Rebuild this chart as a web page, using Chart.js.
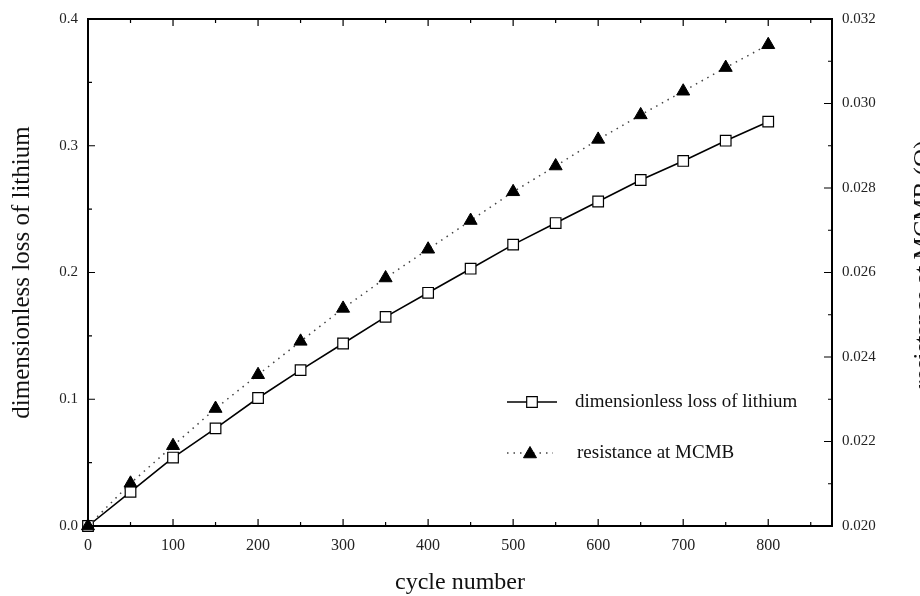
<!DOCTYPE html>
<html>
<head>
<meta charset="utf-8">
<script src="https://cdn.jsdelivr.net/npm/chart.js@4/dist/chart.umd.min.js"></script>
<style>
  html, body { margin: 0; padding: 0; background: #fff; }
  #myChart { display: block; }
</style>
</head>
<body>
<canvas id="myChart" width="920" height="596"></canvas>
<script>
// values
var cycles = [0, 50, 100, 150, 200, 250, 300, 350, 400, 450, 500, 550, 600, 650, 700, 750, 800];
var lithiumLoss = [0, 0.027, 0.054, 0.077, 0.101, 0.123, 0.144, 0.165, 0.184, 0.203, 0.222, 0.239, 0.256, 0.273, 0.288, 0.304, 0.319];
var resistance = [0.0200, 0.02101, 0.02190, 0.02278, 0.02358, 0.02437, 0.02515, 0.02587, 0.02655, 0.02723, 0.02791, 0.02852, 0.02915, 0.02973, 0.03029, 0.03085, 0.03139];

var xTicks = [0, 100, 200, 300, 400, 500, 600, 700, 800];
var leftTicks = [0.0, 0.1, 0.2, 0.3, 0.4];
var rightTicks = [0.020, 0.022, 0.024, 0.026, 0.028, 0.030, 0.032];

var labelLithium = 'dimensionless loss of lithium';
var labelResistance = 'resistance at MCMB';
var titleX = 'cycle number';
var titleLeft = 'dimensionless loss of lithium';
var titleRight = 'resistance at MCMB (\u03A9)';

var serif = '"Liberation Serif", "Times New Roman", serif';
var myChart;

function toPoints(xs, ys) {
    var pts = [];
    for (var i = 0; i < xs.length; i++) {
        pts.push({x: xs[i], y: ys[i]});
    }
    return pts;
}

function drawMarker(ctx, style, r, x, y, fill, stroke, lw) {
    ctx.save();
    ctx.fillStyle = fill;
    ctx.strokeStyle = stroke;
    ctx.lineWidth = lw;
    ctx.beginPath();
    if (style === 'rect') {
        var s = Math.SQRT1_2 * r;
        ctx.rect(x - s, y - s, 2 * s, 2 * s);
    } else {
        var a = -Math.PI / 2;
        ctx.moveTo(x + Math.cos(a) * r, y + Math.sin(a) * r);
        a += 2 * Math.PI / 3;
        ctx.lineTo(x + Math.cos(a) * r, y + Math.sin(a) * r);
        a += 2 * Math.PI / 3;
        ctx.lineTo(x + Math.cos(a) * r, y + Math.sin(a) * r);
        ctx.closePath();
    }
    ctx.fill();
    ctx.stroke();
    ctx.restore();
}

// frame, inward ticks, right title and in-plot legend
var decorPlugin = {
    id: 'decor',
    afterDatasetsDraw: function(chart) {
        var ctx = chart.ctx;
        var a = chart.chartArea;
        var sx = chart.scales.x, sy = chart.scales.y, sy2 = chart.scales.y2;
        ctx.save();
        ctx.strokeStyle = '#000';
        ctx.lineWidth = 2;
        ctx.strokeRect(a.left, a.top, a.right - a.left, a.bottom - a.top);

        ctx.lineWidth = 1.2;
        ctx.beginPath();
        var v, p, len;
        for (v = 0; v <= 850; v += 50) {
            p = sx.getPixelForValue(v);
            len = (v % 100 === 0) ? 7 : 4;
            ctx.moveTo(p, a.bottom); ctx.lineTo(p, a.bottom - len);
            ctx.moveTo(p, a.top); ctx.lineTo(p, a.top + len);
        }
        for (v = 0; v <= 8; v++) {
            p = sy.getPixelForValue(v * 0.05);
            len = (v % 2 === 0) ? 7 : 4;
            ctx.moveTo(a.left, p); ctx.lineTo(a.left + len, p);
        }
        for (v = 0; v <= 12; v++) {
            p = sy2.getPixelForValue(0.020 + v * 0.001);
            len = (v % 2 === 0) ? 8 : 4;
            ctx.moveTo(a.right, p); ctx.lineTo(a.right - len, p);
        }
        ctx.stroke();

        // right axis title, reads bottom to top like the left one
        ctx.save();
        ctx.translate(924, (a.top + a.bottom) / 2 - 8);
        ctx.rotate(-Math.PI / 2);
        ctx.font = '25px ' + serif;
        ctx.fillStyle = '#111';
        ctx.textAlign = 'center';
        ctx.textBaseline = 'middle';
        ctx.fillText(titleRight, 0, 0);
        ctx.restore();

        // legend
        var d0 = chart.data.datasets[1], d1 = chart.data.datasets[0];
        ctx.font = '19px ' + serif;
        ctx.fillStyle = '#111';
        ctx.textBaseline = 'middle';
        ctx.textAlign = 'left';

        ctx.strokeStyle = d0.borderColor;
        ctx.lineWidth = d0.borderWidth;
        ctx.beginPath(); ctx.moveTo(507, 402); ctx.lineTo(557, 402); ctx.stroke();
        drawMarker(ctx, 'rect', d0.pointRadius, 532, 402, '#fff', '#000', d0.pointBorderWidth);
        ctx.fillText(labelLithium, 575, 402);

        ctx.strokeStyle = d1.borderColor;
        ctx.lineWidth = d1.borderWidth;
        ctx.setLineDash(d1.borderDash);
        ctx.beginPath(); ctx.moveTo(507, 453); ctx.lineTo(553, 453); ctx.stroke();
        ctx.setLineDash([]);
        drawMarker(ctx, 'triangle', d1.pointRadius, 530, 454, '#000', '#000', 1);
        ctx.fillStyle = '#111';
        ctx.fillText(labelResistance, 577, 453);
        ctx.restore();
    }
};

function init_chart() {
    var ctx = document.getElementById('myChart').getContext('2d');

    const data = {
        datasets: [{
            label: labelResistance,
            data: toPoints(cycles, resistance),
            yAxisID: 'y2',
            borderColor: '#444',
            borderWidth: 1.5,
            borderDash: [1.5, 5],
            pointStyle: 'triangle',
            pointRadius: 7.5,
            pointBackgroundColor: '#000',
            pointBorderColor: '#000',
            pointBorderWidth: 1,
            tension: 0,
            clip: false,
            order: 0
        }, {
            label: labelLithium,
            data: toPoints(cycles, lithiumLoss),
            yAxisID: 'y',
            borderColor: '#000',
            borderWidth: 1.6,
            pointStyle: 'rect',
            pointRadius: 7.5,
            pointBackgroundColor: '#fff',
            pointBorderColor: '#000',
            pointBorderWidth: 1.2,
            tension: 0,
            clip: false,
            order: 1
        }]
    };

    const tickFont = {family: serif, size: 15};

    const config = {
        type: 'line',
        data: data,
        options: {
            responsive: false,
            animation: false,
            layout: {padding: {top: 13, left: 0, right: 0, bottom: 0}},
            plugins: {legend: {display: false}, tooltip: {enabled: false}},
            scales: {
                x: {
                    type: 'linear',
                    min: 0,
                    max: 875,
                    afterBuildTicks: function(scale) {
                        scale.ticks = xTicks.map(function(v) { return {value: v}; });
                    },
                    afterFit: function(scale) { scale.height = 70; },
                    ticks: {color: '#222', font: {family: serif, size: 16}, padding: 10, maxRotation: 0},
                    grid: {drawOnChartArea: false, drawTicks: false},
                    border: {display: false},
                    title: {display: true, text: titleX, color: '#111',
                            font: {family: serif, size: 24, lineHeight: 1}, padding: {top: 0, bottom: 1}}
                },
                y: {
                    position: 'left',
                    min: 0,
                    max: 0.4,
                    afterBuildTicks: function(scale) {
                        scale.ticks = leftTicks.map(function(v) { return {value: v}; });
                    },
                    afterFit: function(scale) { scale.width = 88; },
                    ticks: {color: '#222', font: tickFont, padding: 10,
                            callback: function(v) { return v.toFixed(1); }},
                    grid: {drawOnChartArea: false, drawTicks: false},
                    border: {display: false},
                    title: {display: true, text: titleLeft, color: '#111',
                            font: {family: serif, size: 25, lineHeight: 1}, padding: {top: 10, bottom: 0}}
                },
                y2: {
                    position: 'right',
                    min: 0.020,
                    max: 0.032,
                    afterBuildTicks: function(scale) {
                        scale.ticks = rightTicks.map(function(v) { return {value: v}; });
                    },
                    afterFit: function(scale) { scale.width = 88; },
                    ticks: {color: '#222', font: tickFont, padding: 10,
                            callback: function(v) { return v.toFixed(3); }},
                    grid: {drawOnChartArea: false, drawTicks: false},
                    border: {display: false}
                }
            }
        },
        plugins: [decorPlugin]
    };

    myChart = new Chart(ctx, config);
}

init_chart();
</script>
</body>
</html>
